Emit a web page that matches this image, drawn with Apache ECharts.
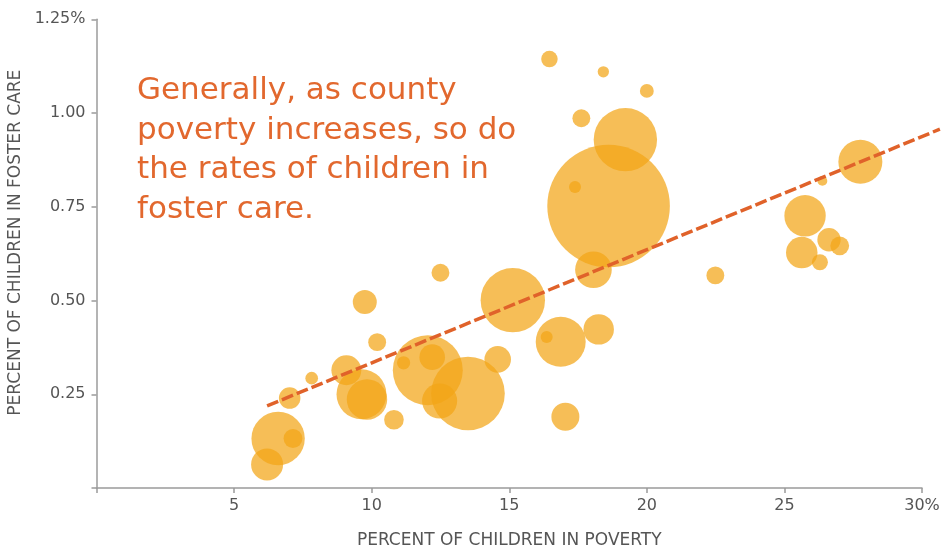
<!DOCTYPE html>
<html>
<head>
<meta charset="utf-8">
<script src="https://cdn.jsdelivr.net/npm/echarts@6/dist/echarts.min.js"></script>
<style>
  html, body { margin: 0; padding: 0; background: #ffffff; }
  #chart { width: 943px; height: 550px; }
</style>
</head>
<body>
<div id="chart"></div>
<script>
// Percent of children in poverty (x)
var poverty = [6.2, 6.6, 7.14, 7.02, 7.82, 9.08, 9.63, 9.83, 9.75, 10.2, 10.81, 11.16, 12.04, 12.2, 12.5, 12.47, 13.5, 14.58, 15.13, 16.87, 16.36, 18.25, 17.04, 18.06, 22.49, 16.46, 18.42, 20.0, 17.62, 19.22, 18.61, 17.39, 27.76, 26.38, 25.75, 25.63, 26.62, 27.01, 26.29];
// Percent of children in foster care (y)
var foster = [0.063, 0.132, 0.132, 0.240, 0.293, 0.314, 0.250, 0.236, 0.496, 0.389, 0.182, 0.334, 0.314, 0.349, 0.574, 0.232, 0.252, 0.343, 0.501, 0.390, 0.403, 0.423, 0.190, 0.582, 0.567, 1.144, 1.110, 1.059, 0.986, 0.929, 0.752, 0.803, 0.870, 0.819, 0.726, 0.628, 0.662, 0.646, 0.602];
// Relative county size (bubble area)
var weights = [64, 178, 22, 29, 10, 56, 156, 102, 36, 20, 24, 11, 306, 41, 20, 77, 339, 44, 259, 156, 9, 58, 49, 84, 20, 17, 8, 12, 20, 251, 939, 9, 121, 6, 107, 62, 34, 22, 16];
// Trend line endpoints [poverty, foster]
var trendX = [6.2, 30.65];
var trendY = [0.219, 0.957];
// Tick values
var xTicks = [0, 5, 10, 15, 20, 25, 30];
var yTicks = [0, 0.25, 0.5, 0.75, 1.0, 1.25];

var bubbles = poverty.map(function (x, i) { return [x, foster[i], weights[i]]; });
var trend = [[trendX[0], trendY[0], trendX[1], trendY[1]]];

var gray = '#9b9b9b';
var labelColor = '#555555';
var font = "'DejaVu Sans', sans-serif";

var chart = echarts.init(document.getElementById('chart'), null, { renderer: 'canvas' });
chart.setOption({
  backgroundColor: '#ffffff',
  animation: false,
  grid: { left: 96.5, right: 21, top: 19.3, bottom: 62, containLabel: false, outerBoundsMode: 'none' },
  xAxis: {
    type: 'value',
    min: xTicks[0], max: xTicks[xTicks.length - 1], interval: 5,
    name: 'PERCENT OF CHILDREN IN POVERTY',
    nameLocation: 'middle', nameGap: 44,
    nameTextStyle: { color: labelColor, fontSize: 17, fontFamily: font },
    axisLine: { show: true, lineStyle: { color: gray, width: 1.5 } },
    axisTick: { show: true, length: 5, lineStyle: { color: gray, width: 1.5 } },
    splitLine: { show: false },
    axisLabel: {
      color: labelColor, fontSize: 16, fontFamily: font, margin: 10,
      formatter: function (v) { if (v === 0) return ''; if (v === 30) return '30%'; return String(v); }
    }
  },
  yAxis: {
    type: 'value',
    min: yTicks[0], max: yTicks[yTicks.length - 1], interval: 0.25,
    name: 'PERCENT OF CHILDREN IN FOSTER CARE',
    nameLocation: 'middle', nameGap: 72,
    nameTextStyle: { color: labelColor, fontSize: 17, fontFamily: font, padding: [0, 0, 0, 22] },
    axisLine: { show: true, lineStyle: { color: gray, width: 1.5 } },
    axisTick: { show: true, length: 5, lineStyle: { color: gray, width: 1.5 } },
    splitLine: { show: false },
    axisLabel: {
      color: labelColor, fontSize: 16, fontFamily: font, margin: 11,
      formatter: function (v) { if (v === 0) return ''; if (v === 1.25) return '1.25%'; return v.toFixed(2); }
    }
  },
  graphic: [{
    type: 'text', left: 137, top: 71, z: 10,
    style: {
      text: 'Generally, as county\npoverty increases, so do\nthe rates of children in\nfoster care.',
      fill: '#E2682E', font: "31px 'DejaVu Sans', sans-serif", lineHeight: 39.7
    }
  }],
  series: [{
    type: 'scatter',
    data: bubbles,
    symbolSize: function (d) { return 4 * Math.sqrt(d[2]); },
    itemStyle: { color: '#F2A516', opacity: 0.72 },
    emphasis: { disabled: true },
    z: 2
  }, {
    type: 'custom',
    data: trend,
    clip: false,
    z: 3,
    renderItem: function (params, api) {
      var p0 = api.coord([api.value(0), api.value(1)]);
      var p1 = api.coord([api.value(2), api.value(3)]);
      return {
        type: 'line',
        shape: { x1: p0[0], y1: p0[1], x2: p1[0], y2: p1[1] },
        style: { stroke: '#E0622A', lineWidth: 3.5, lineDash: [12, 4], fill: null }
      };
    }
  }]
});
</script>
</body>
</html>
